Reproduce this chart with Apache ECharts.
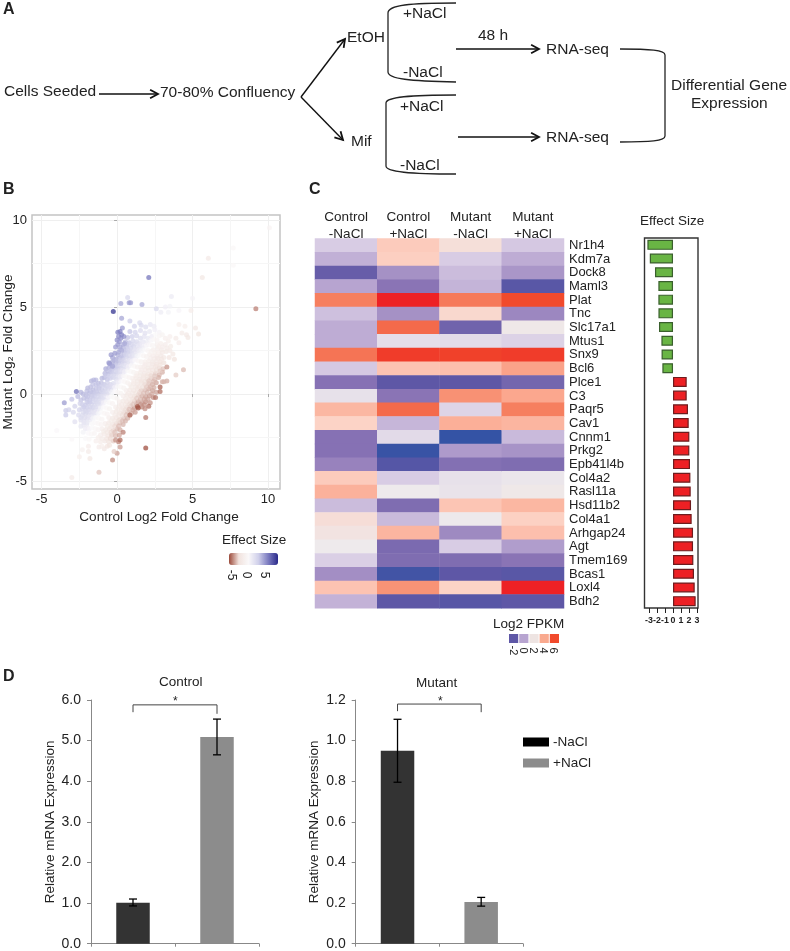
<!DOCTYPE html>
<html><head><meta charset="utf-8">
<style>html,body{margin:0;padding:0;background:#fff}#c{width:790px;height:951px}</style>
<script src="https://cdn.jsdelivr.net/npm/echarts@6/dist/echarts.min.js"></script>
</head><body><div id="c"></div>
<script>
// ---------- panel B: [control LFC, mutant LFC, effect size]
const scatterBlue = [
[1.15,3.9,3.5],[1.6,3.95,3],[1.9,3.85,2.6],[2.2,4,2],[2.45,3.9,1.6],
[.85,3.6,4],[1.2,3.55,3.4],[1.55,3.65,2.8],[1.85,3.5,2.4],[2.15,3.6,1.8],[2.5,3.7,1.2],[2.8,3.55,.9],
[.7,3.25,4.2],[1,3.3,3.6],[1.3,3.35,3.2],[1.55,3.2,2.7],[1.8,3.3,2.2],[2.05,3.2,1.8],[2.3,3.3,1.4],
[.55,3,4.4],[.8,2.95,4],[1.05,3.05,3.3],[1.3,3,2.9],[1.5,2.9,2.5],[1.75,3,2],[2,2.95,1.5],
[.4,2.7,4.5],[.65,2.7,4],[.9,2.65,3.4],[1.1,2.75,3],[1.3,2.6,2.5],[1.5,2.7,2],[1.7,2.65,1.5],
[.45,2.3,4.2],[.7,2.4,3.6],[.85,2.45,3.2],[1,2.3,2.7],[1.2,2.4,2.2],[1.4,2.35,1.6],[.55,2.5,4],
[-.3,2.1,5.2],[-.05,2,5],[.2,2.1,4.6],[.4,2.05,4],[.6,2.15,3.4],[.8,2.05,2.8],[1,2.1,2.2],[1.2,2,1.5],
[-.55,1.8,5.2],[-.3,1.85,5],[-.1,1.75,4.6],[.1,1.8,4.2],[.3,1.85,3.6],[.5,1.75,3.1],[.7,1.8,2.5],[.9,1.75,1.8],
[-.75,1.45,5],[-.55,1.5,4.8],[-.35,1.4,4.4],[-.15,1.5,4],[.05,1.45,3.6],[.25,1.5,3.1],[.45,1.4,2.6],[.65,1.5,2],
[-.8,1.2,4.6],[-.6,1.15,4.3],[-.4,1.25,4],[-.2,1.15,3.6],[0,1.2,3.2],[.2,1.15,2.6],[.4,1.25,2],
[-1,.9,4.5],[-.85,.95,4.3],[-.65,.85,4],[-.45,.9,3.6],[-.25,.95,3.2],[-.05,.85,2.7],[.15,.9,2.1],
[-1.7,.75,4.6],[-1.55,.8,4.4],[-1.4,.8,4.4],[-1.25,.6,4.3],[-1.05,.65,4.2],[-.85,.55,3.9],[-.65,.65,3.5],[-.45,.55,3.1],[-.25,.6,2.6],[-.05,.6,2],
[-1.95,.35,4.5],[-1.75,.4,4.3],[-1.6,.25,4.2],[-1.4,.3,4.1],[-1.2,.35,3.9],[-1,.25,3.7],[-.8,.3,3.3],[-.6,.35,2.9],[-.4,.25,2.4],
[-2.4,.1,4.6],[-2.25,0,4.4],[-2.05,-.05,4.2],[-1.85,.05,4.1],[-1.65,-.05,3.9],[-1.45,.05,3.7],[-1.25,0,3.5],[-1.05,-.05,3.1],[-.85,.05,2.8],[-.65,0,2.3],
[-2.6,-.15,4.4],[-2.2,-.25,4.2],[-2,-.3,4],[-1.8,-.35,3.8],[-1.6,-.25,3.6],[-1.4,-.35,3.3],[-1.2,-.3,3],[-1,-.25,2.6],[-.8,-.35,2],
[-2.3,-.6,3.8],[-2.1,-.65,3.6],[-1.9,-.55,3.5],[-1.7,-.6,3.2],[-1.5,-.65,3],[-1.3,-.55,2.7],[-1.1,-.6,2.2],
[-2.5,-.9,3.4],[-2.3,-.85,3.3],[-2.1,-.95,3.1],[-1.9,-.9,3],[-1.7,-.85,2.7],[-1.5,-.95,2.3],[-1.3,-.9,2],
[-2.55,-1.2,2.8],[-2.3,-1.25,2.7],[-2.1,-1.15,2.6],[-1.9,-1.25,2.3],[-1.7,-1.2,2],[-1.5,-1.15,1.6],
[-2.8,-1.6,2.4],[-2.4,-1.5,2.4],[-2.2,-1.55,2.2],[-2,-1.45,2],[-1.8,-1.5,1.6],
[-2.4,-1.85,1.8],[-2.2,-1.8,1.7],[-2,-1.75,1.5]
];
const scatterBrown = [
[3.2,3.2,-.8],[3.4,3.05,-1],[3.5,3.3,-.8],
[2.65,2.85,-.6],[2.9,2.9,-.9],[3.2,2.85,-1.2],[3.55,2.75,-1.4],
[2.4,2.55,-.8],[2.7,2.6,-1.1],[2.95,2.55,-1.3],[3.25,2.45,-1.7],[3.5,2.5,-1.6],
[2.15,2.25,-.9],[2.4,2.2,-1.2],[2.65,2.15,-1.5],[2.9,2.2,-1.8],[3.1,2.1,-2],[3.45,2.1,-2.2],[3.7,2.3,-2],
[1.85,1.85,-1],[2.1,1.9,-1.3],[2.35,1.85,-1.6],[2.6,1.9,-1.9],[2.85,1.85,-2.2],[3.1,1.8,-2.6],[3.8,2,-2.5],
[1.55,1.55,-.9],[1.8,1.6,-1.3],[2.05,1.5,-1.7],[2.3,1.55,-2],[2.55,1.6,-2.3],[2.8,1.5,-2.7],[3.05,1.45,-3.2],
[1.3,1.2,-1],[1.55,1.25,-1.4],[1.8,1.2,-1.8],[2.05,1.15,-2.1],[2.3,1.2,-2.5],[2.55,1.2,-2.9],[2.8,1.1,-3.4],[3,1.25,-3.6],
[1,.9,-1],[1.25,.9,-1.5],[1.5,.85,-1.9],[1.75,.95,-2.2],[2,.85,-2.6],[2.25,.9,-3],[2.5,.85,-3.3],[2.75,.95,-3.6],
[.85,.55,-1.1],[1.1,.6,-1.6],[1.35,.55,-2],[1.6,.65,-2.4],[1.85,.55,-2.8],[2.1,.6,-3.2],[2.35,.55,-3.6],[2.6,.65,-3.8],[3,.7,-3.6],
[.6,.2,-1.1],[.85,.25,-1.6],[1.1,.2,-2.1],[1.35,.3,-2.5],[1.6,.2,-3],[1.85,.25,-3.3],[2.1,.3,-3.7],[2.35,.2,-3.9],[2.6,.1,-3.9],
[.4,-.1,-1.1],[.65,-.05,-1.7],[.9,-.1,-2.2],[1.15,-.15,-2.6],[1.4,-.05,-3.1],[1.65,-.1,-3.6],[1.9,-.15,-3.9],[2.15,-.1,-4],[2.4,-.2,-4.3],
[.15,-.45,-1.2],[.4,-.4,-1.7],[.65,-.45,-2.2],[.9,-.5,-2.7],[1.15,-.4,-3.2],[1.4,-.45,-3.9],[1.65,-.5,-4],[1.9,-.45,-4.3],[2.2,-.5,-4.2],
[-.1,-.75,-1.1],[.15,-.7,-1.7],[.4,-.8,-2.2],[.65,-.75,-2.7],[.9,-.7,-3.3],[1.15,-.8,-3.9],[1.65,-.75,-4.4],[1.85,-.85,-4.3],
[-.3,-1.05,-1.1],[-.05,-1,-1.7],[.2,-1.1,-2.2],[.45,-1.05,-2.8],[.7,-1,-3.4],[.95,-1.1,-3.6],[1.2,-1.05,-4],
[-.55,-1.35,-1.1],[-.3,-1.4,-1.7],[-.05,-1.35,-2.2],[.2,-1.45,-2.8],[.45,-1.4,-3.2],[.7,-1.4,-3.6],
[-.8,-1.7,-1.1],[-.55,-1.65,-1.6],[-.3,-1.75,-2.1],[-.05,-1.7,-2.8],[.2,-1.65,-3.4],[.4,-1.75,-3.5],
[-1,-2,-1.1],[-.75,-2.05,-1.7],[-.5,-2,-2.2],[-.25,-2.1,-2.9],[0,-2,-3.4],[.2,-2.05,-3.6],
[-1.1,-2.35,-1.1],[-.85,-2.3,-1.6],[-.6,-2.4,-2.2],[-.35,-2.35,-3],[-.1,-2.4,-3.4],[.15,-2.35,-3.8],
[-1.4,-2.7,-.8],[-1.1,-2.75,-1.3],[-.8,-2.7,-1.9],[-.55,-2.75,-2.4],[-.25,-2.7,-3],
[-1.2,-3.05,-1.2],[-.65,-3,-2.2],[-.5,-2.95,-2.4],[-.85,-3.15,-1.8]
];
const scatterFillBlue = [
[-1.15,.45,3.8],[-.95,.5,3.5],[-.7,.45,3.2],[-.5,.42,2.8],[-.3,.45,2.4],[-1.6,.55,4],[-1.4,.55,4],
[-.7,1.05,3.8],[-.5,1.03,3.4],[-.3,1.05,3],[-.1,1.02,2.6],[.1,1.05,2.2],
[-.6,1.32,4.2],[-.4,1.33,3.8],[-.2,1.3,3.4],[0,1.32,3],[.2,1.33,2.4],[.35,1.35,2],
[-.45,1.65,4.4],[-.2,1.63,4],[0,1.62,3.6],[.2,1.65,3.1],[.4,1.63,2.6],[.6,1.65,2],
[-.2,1.95,4.6],[0,1.92,4.2],[.22,1.95,3.7],[.45,1.92,3.1],[.65,1.97,2.5],[.85,1.92,1.9],
[.05,2.25,4.6],[.3,2.22,4.1],[.55,2.27,3.5],[.75,2.22,3],[.95,2.2,2.4],[1.15,2.22,1.8],
[.2,2.55,4.5],[.45,2.55,3.9],[.75,2.55,3.3],[1,2.53,2.7],[1.2,2.55,2.1],[1.45,2.52,1.5],
[.4,2.85,4.4],[.65,2.85,3.8],[.95,2.85,3.2],[1.2,2.87,2.6],[1.45,2.82,2],[1.65,2.85,1.4],
[-1.15,.15,3.7],[-.95,.15,3.3],[-.75,.15,2.9],[-.55,.12,2.4],[-1.55,.1,3.9],[-1.35,.15,3.8],[-1.75,.15,4.1],[-2,.18,4.3],
[-1.5,-.12,3.6],[-1.3,-.15,3.3],[-1.1,-.15,2.9],[-.9,-.17,2.4],[-1.7,-.15,3.7],[-1.95,-.15,4],[-2.4,-.35,4.1],
[-1.6,-.45,3.3],[-1.4,-.45,3],[-1.2,-.47,2.7],[-1,-.43,2.2],[-1.8,-.45,3.6],[-2,-.47,3.8],
[-1.6,-.78,3],[-1.4,-.75,2.7],[-1.2,-.75,2.2],[-1.8,-.75,3.2],[-2,-.78,3.4],[-2.2,-.75,3.6],
[-1.85,-1.05,2.8],[-1.65,-1.05,2.4],[-1.45,-1.07,2],[-2.05,-1.05,3],[-2.25,-1.05,3],
[-1.95,-1.35,2.2],[-1.75,-1.35,1.9],[-2.15,-1.35,2.5],[-2.4,-1.35,2.6],
[-2,-1.65,1.8],[-2.2,-1.65,2],[-2.1,-2,1.4],[-1.95,-1.95,1.2],[-2.25,-2.2,1]
];
const scatterFillBrown = [
[1.2,.4,-1.8],[1.45,.42,-2.2],[1.7,.4,-2.6],[1.95,.4,-3],[2.2,.42,-3.4],[2.45,.38,-3.6],[.95,.4,-1.4],
[.75,.05,-1.5],[1,.05,-1.9],[1.25,.05,-2.4],[1.5,.08,-2.8],[1.75,.05,-3.2],[2,.08,-3.5],[2.3,0,-3.8],
[.55,-.28,-1.5],[.8,-.3,-2],[1.05,-.28,-2.5],[1.3,-.25,-3],[1.55,-.3,-3.4],[1.8,-.3,-3.8],[2.05,-.3,-3.9],
[.3,-.6,-1.6],[.55,-.6,-2],[.8,-.62,-2.6],[1.05,-.6,-3.1],[1.3,-.62,-3.6],[1.55,-.6,-4],[1.8,-.62,-4.2],
[.05,-.88,-1.5],[.3,-.92,-2],[.55,-.9,-2.6],[.8,-.88,-3.2],[1.05,-.92,-3.8],
[-.15,-1.2,-1.5],[.1,-1.22,-2],[.35,-1.2,-2.6],[.6,-1.22,-3.2],[.85,-1.22,-3.6],
[-.4,-1.55,-1.4],[-.15,-1.55,-2],[.1,-1.55,-2.6],[.35,-1.55,-3.2],[.55,-1.55,-3.5],
[-.65,-1.85,-1.4],[-.4,-1.88,-2],[-.15,-1.85,-2.7],[.1,-1.85,-3.3],
[-.9,-2.15,-1.4],[-.65,-2.2,-2],[-.4,-2.2,-2.7],[-.15,-2.2,-3.2],
[-1.25,-2.5,-1],[-1,-2.55,-1.5],[-.7,-2.55,-2.1],[-.45,-2.55,-2.7],
[1.5,1.05,-1.7],[1.75,1.05,-2],[2,1.03,-2.4],[2.25,1.05,-2.7],[2.5,1.03,-3.1],[1.25,1.05,-1.3],
[1.1,.72,-1.3],[1.35,.75,-1.7],[1.6,.75,-2.2],[1.85,.72,-2.6],[2.1,.75,-3],[2.4,.72,-3.4],
[1.6,1.38,-1.2],[1.85,1.4,-1.6],[2.1,1.35,-2],[2.35,1.38,-2.3],[2.6,1.4,-2.6],[2.85,1.33,-3],
[1.85,1.7,-1.2],[2.1,1.7,-1.5],[2.35,1.72,-1.9],[2.6,1.7,-2.2],[2.85,1.68,-2.5],
[2.2,2.05,-1.1],[2.45,2.03,-1.5],[2.7,2.05,-1.8],[2.95,2,-2.1],
[2.5,2.37,-1],[2.75,2.37,-1.3],[3,2.38,-1.6],[2.75,2.72,-.9],[3,2.7,-1.2],[3.3,2.65,-1.5]
];
const scatterCore = [
[-2.1,-2.55,.5],[-1.85,-2.6,.2],[-1.9,-2.25,.6],[-1.7,-2.3,.2],[-1.5,-2.25,0],
[-1.85,-2,.8],[-1.65,-1.95,.5],[-1.45,-2,.2],[-1.25,-2.05,-.2],
[-1.65,-1.7,.7],[-1.45,-1.65,.4],[-1.25,-1.7,.1],[-1.05,-1.75,-.3],
[-1.6,-1.4,1],[-1.4,-1.35,.7],[-1.2,-1.4,.3],[-1,-1.45,0],
[-1.25,-1.1,1],[-1.05,-1.05,.5],[-.85,-1.1,.1],[-.65,-1.15,-.3],
[-1.1,-.8,1],[-.9,-.75,.6],[-.7,-.8,.2],[-.5,-.85,-.4],
[-.9,-.5,1.2],[-.7,-.45,.7],[-.5,-.5,.3],[-.3,-.55,-.3],
[-.6,-.2,1.2],[-.4,-.15,.7],[-.2,-.2,.2],[0,-.25,-.4],
[-.35,.1,1],[-.15,.15,.6],[.05,.1,.1],[.25,.05,-.4],
[-.15,.4,1.2],[.05,.45,.7],[.25,.4,.2],[.45,.35,-.4],
[.1,.7,1.2],[.3,.75,.6],[.5,.7,.1],[.7,.65,-.5],
[.2,1,1.5],[.4,1.05,.9],[.6,1,.3],[.8,.95,-.3],
[.5,1.3,1.2],[.7,1.35,.7],[.9,1.3,.2],[1.1,1.25,-.4],
[.75,1.6,1.2],[.95,1.65,.7],[1.15,1.6,.1],[1.35,1.55,-.5],
[1,1.9,1.2],[1.2,1.95,.6],[1.4,1.9,.1],[1.6,1.85,-.5],
[1.35,2.2,1],[1.55,2.25,.5],[1.75,2.2,0],[1.95,2.15,-.5],
[1.65,2.5,1],[1.85,2.55,.5],[2.05,2.5,0],[2.25,2.45,-.5],
[1.95,2.8,.9],[2.15,2.85,.4],[2.35,2.8,-.1],
[2.25,3.1,.8],[2.45,3.15,.3],[2.65,3.1,-.2],
[2.55,3.4,.5],[2.8,3.35,0],[3,3.4,-.4]
];
const scatterOutliers = [
[10.1,9.55,-.3],[7.7,8.4,.2],[7.7,7.4,.2],[6.05,7.8,-1.6],[5.65,6.7,-2],[2.1,6.7,7],[.7,5.55,3],[3.6,5.6,1.6],[5,5.5,.9],
[-.25,4.75,9.6],[.25,5.2,5.2],[.8,5.25,5.6],[.9,5.25,5.6],[1.65,5.15,5.2],[2.6,4.9,3],[3.2,5,1.2],[3.5,5.05,1],[2.9,4.7,1.5],[3.4,4.7,1],[4.1,4.8,.8],[4.9,4.8,-1.3],[9.2,4.9,-4.6],
[.3,4.35,5.2],[.85,4.2,3.8],[1.5,4.1,3],[.35,3.8,5.6],
[4.1,4,-1],[4.5,3.9,-1],[5.2,3.8,-1.8],[5.4,3.45,-2.4],[4.6,3.4,-1.8],[4.3,3.5,-1.5],[4.7,3.25,-2],[3.9,3.2,-1.5],[4.1,2.95,-1.2],[3.9,1.1,-3],[4.4,1.4,-3.4],[3.3,1.55,-4.2],[3.3,.75,-3.7],[3.1,.7,-3.5],
[-4,-2.1,.6],[-3.5,-.5,5.6],[-2.7,.15,7.2],[-3.4,-1.2,3.8],[-3.4,-.95,3.8],[-3.2,-.9,3.5],[-3,-.3,4],[-2.8,-.7,3.5],[-2.9,-1.05,3],[-2.45,-.55,3.5],[-3,-2.6,.4],
[-2.3,-3.2,-.5],[-2.5,-3.6,-1],[-3,-4.8,-1.5],[-1.2,-4.5,-3.2],[-.3,-3.8,-4.4],[0,-3.4,-4],[.2,-3.05,-4],[1.9,-3.1,-5.6],[-.2,-3.3,-3],[-1,-3,-1],[-1.9,-3,-1.2],[-1.9,-3.3,-1.5],[-1.8,-3.7,-2],
[.1,-2.75,-4.5],[-.1,-2.65,-4.2],[.4,-2.2,-4.6],[.2,-2.65,-5],[1.9,-1.35,-4.8],[.85,-1.2,-5],[1.4,-.8,-5.6],[1.35,-.72,-5.4],[2.1,-.7,-5],[2.55,-.2,-4.8],[2.85,.4,-5.2],[2.85,.15,-5],
[.05,3.55,6.6],[.2,3.6,6.6],[.1,3.3,6],[.3,3.4,6.6],[0,3.1,6],[.15,3,5.6],[.45,3.3,6],[.25,3.2,6],[.05,2.85,5.6],[-.1,2.7,5.6],[.2,2.7,5],[.5,2.9,5],[-.15,2.35,5.6],[-.4,2.25,5.6],[.1,2.4,5],[.3,2.5,4.8],[-.5,1.75,5.6],[-.3,1.6,5.2]
];
const scatterXTicks = [-5,0,5,10];
const scatterYTicks = [-5,0,5,10];
const scatterMinorGrid = [-2.5,2.5,7.5];
const effectLegendTicks = [-5,0,5];

// ---------- panel C
const conditions = ['Control\n-NaCl','Control\n+NaCl','Mutant\n-NaCl','Mutant\n+NaCl'];
const genes = ['Nr1h4','Kdm7a','Dock8','Maml3','Plat','Tnc','Slc17a1','Mtus1','Snx9','Bcl6','Plce1','C3','Paqr5','Cav1','Cnnm1','Prkg2','Epb41l4b','Col4a2','Rasl11a','Hsd11b2','Col4a1','Arhgap24','Agt','Tmem169','Bcas1','Loxl4','Bdh2'];
const fpkmControlMinus = [1,.3,-1.8,0,5,.7,.2,.2,5.2,.9,-1.1,1.7,3.7,3,-1.1,-1.1,-.7,3.2,3.85,.6,2.55,2.3,2,1.1,-.45,3.4,.35];
const fpkmControlPlus = [3.2,3.1,-.4,-1,6.9,-.4,5.4,1.6,6.3,3.4,-2,-1,5.4,.45,1.45,-2.8,-2.2,1,2,-1.25,.55,3.75,-1.35,-1.25,-2.6,4.55,-2];
const fpkmMutantMinus = [2.5,1,.6,.4,5.1,2.8,-1.6,1.5,6.2,3.5,-2,4.6,1.25,3.9,-2.9,-.2,-1.15,1.7,1.75,3.35,1.95,-.55,1,-1.25,-2,3,-2.15];
const fpkmMutantPlus = [.9,.2,-.3,-2.1,6,-.6,2.1,1.2,6.3,4.2,-1.5,4.1,5,3.75,.55,-.35,-1.25,1.85,2.1,3.7,3.05,3.5,-.15,-1,-2.1,6.9,-2];
const fpkmTicks = ['-2','0','2','4','6'];
const fpkmLegendColors = ['#5e57a6','#b7a4d0','#eee4e2','#f9a98e','#f14a2c'];
const fpkmScale = ['#2f52a5','#5e57a6','#8a74b5','#b7a4d0','#d8cce4','#eeeaec','#fcd3c6','#fbab93','#f67f5f','#f14a2c','#ed1c24'];
const effectByGene = [-3.2,-2.9,-2.25,-1.83,-1.83,-1.82,-1.75,-1.45,-1.43,-1.33,1.71,1.71,1.87,1.96,2.04,2.04,2.12,2.17,2.21,2.25,2.33,2.5,2.5,2.54,2.62,2.71,2.83];
const effectTicks = [-3,-2,-1,0,1,2,3];

// ---------- panel D
const groups = ['-NaCl','+NaCl'];
const controlMeans = [1.01,5.09];
const controlErrLow = [.93,4.65];
const controlErrHigh = [1.1,5.53];
const controlBracket = [[0,5.7],[0,5.88],[1,5.88],[1,5.66]];
const mutantMeans = [.95,.205];
const mutantErrLow = [.795,.185];
const mutantErrHigh = [1.105,.228];
const mutantBracket = [[0,1.145],[0,1.18],[1,1.18],[1,1.14]];

// ---------- panel A diagram
const flowTexts = [
 ['Cells Seeded',4,92],['70-80% Confluency',160,93],['EtOH',347,38],['Mif',351,142],
 ['+NaCl',403,14],['-NaCl',403,73],['+NaCl',400,107],['-NaCl',400,166],['48 h',478,36],
 ['RNA-seq',546,50],['RNA-seq',546,138],['Differential Gene',671,86],['Expression',691,104]
];
const flowArrows = [[99,94,158,94],[301,97,345,39],[301,97,343,140],[456,49,539,49],[458,137,539,137]];
const flowLines = [[388,13,388,72],[386,103,386,166],[665,55,665,136]];
const flowCurves = [
 [456,3,410,3,388,5,388,13],[388,72,388,79,410,81,456,82],
 [456,95,410,95,386,97,386,103],[386,166,386,172,410,174,456,174],
 [620,49,650,49,665,50,665,55],[665,136,665,141,650,142,620,142]
];

const FONT = '"Liberation Sans",Arial,sans-serif';
const INK = '#222';

function txt(s,x,y,size,o){
  return Object.assign({type:'text',silent:true,x:x,y:y,style:{text:s,font:(o&&o.bold?'bold ':'')+size+'px '+FONT,fill:INK,textVerticalAlign:'middle',textAlign:(o&&o.align)||'left'}},o&&o.rot?{rotation:o.rot}:{});
}
const graphics = [];
flowTexts.forEach(t=>graphics.push(txt(t[0],t[1],t[2],15.5)));
flowLines.forEach(a=>graphics.push({type:'line',silent:true,shape:{x1:a[0],y1:a[1],x2:a[2],y2:a[3]},style:{stroke:'#222',lineWidth:1.3}}));
flowCurves.forEach(a=>graphics.push({type:'bezierCurve',silent:true,shape:{x1:a[0],y1:a[1],cpx1:a[2],cpy1:a[3],cpx2:a[4],cpy2:a[5],x2:a[6],y2:a[7]},style:{fill:null,stroke:'#222',lineWidth:1.3}}));
flowArrows.forEach(a=>{
  const ang=Math.atan2(a[3]-a[1],a[2]-a[0]),L=9,W=.5;
  graphics.push({type:'line',silent:true,shape:{x1:a[0],y1:a[1],x2:a[2],y2:a[3]},style:{stroke:'#111',lineWidth:1.4}});
  graphics.push({type:'polyline',silent:true,shape:{points:[[a[2]-L*Math.cos(ang-W),a[3]-L*Math.sin(ang-W)],[a[2],a[3]],[a[2]-L*Math.cos(ang+W),a[3]-L*Math.sin(ang+W)]]},style:{fill:null,stroke:'#111',lineWidth:1.8}});
});
[['A',3,10],['B',3,190],['C',309,190],['D',3,677]].forEach(l=>graphics.push(txt(l[0],l[1],l[2],16,{bold:true})));
graphics.push(txt('Effect Size',222,540,13.5));
effectLegendTicks.forEach((v,i)=>graphics.push(txt(String(v),[231,246,264][i],575,12,{rot:-Math.PI/2,align:'center'})));
graphics.push(txt('Effect Size',640,221,13.5));
graphics.push(txt('Log2 FPKM',493,624,13.5));
fpkmLegendColors.forEach((c,i)=>{
  graphics.push({type:'rect',silent:true,shape:{x:509+i*10.2,y:634,width:9.2,height:9},style:{fill:c}});
  graphics.push(txt(fpkmTicks[i],513+i*10.1,650.5,11,{rot:-Math.PI/2,align:'center'}));
});
graphics.push(txt('Control',159,682,13.5));
graphics.push(txt('Mutant',416,683,13.5));
graphics.push(txt('*',173,702,12));
graphics.push(txt('*',438,702,12));

const heatData = [];
[fpkmControlMinus,fpkmControlPlus,fpkmMutantMinus,fpkmMutantPlus].forEach((col,c)=>col.forEach((v,r)=>heatData.push([c,r,v])));

const scatterAll = scatterBlue.concat(scatterBrown,scatterFillBlue,scatterFillBrown,scatterCore,scatterOutliers);

function errorSeries(grid,low,high){
  return {type:'custom',xAxisIndex:grid,yAxisIndex:grid,silent:true,z:5,
    data:low.map((v,i)=>[i,v,high[i]]),encode:{x:0,y:[1,2]},
    renderItem:function(p,api){
      const a=api.coord([api.value(0),api.value(1)]),b=api.coord([api.value(0),api.value(2)]),h=4;
      const st={stroke:'#000',lineWidth:1.3,fill:null};
      return {type:'group',children:[
        {type:'line',shape:{x1:a[0],y1:a[1],x2:b[0],y2:b[1]},style:st},
        {type:'line',shape:{x1:a[0]-h,y1:a[1],x2:a[0]+h,y2:a[1]},style:st},
        {type:'line',shape:{x1:b[0]-h,y1:b[1],x2:b[0]+h,y2:b[1]},style:st}]};
    }};
}
function barSeries(grid,name,vals,color){
  return {type:'bar',name:name,xAxisIndex:grid,yAxisIndex:grid,stack:'g'+grid,barWidth:33.5,silent:true,data:vals,itemStyle:{color:color}};
}
function bracketSeries(grid,pts){
  return {type:'line',xAxisIndex:grid,yAxisIndex:grid,silent:true,symbol:'none',data:pts,lineStyle:{color:'#444',width:1},z:4};
}
function dXAxis(grid){
  return {type:'category',gridIndex:grid,data:groups,axisLine:{lineStyle:{color:'#888'}},axisTick:{show:true,length:3,lineStyle:{color:'#888'},alignWithLabel:false},axisLabel:{show:false},splitLine:{show:false}};
}
function dYAxis(grid,max,step,dp){
  return {type:'value',gridIndex:grid,min:0,max:max,interval:step,name:'Relative mRNA Expression',nameLocation:'middle',nameGap:dp,nameMoveOverlap:false,
    nameTextStyle:{fontFamily:FONT,fontSize:13.5,color:INK},
    axisLine:{show:true,lineStyle:{color:'#888'}},axisTick:{show:true,length:4,lineStyle:{color:'#888'}},splitLine:{show:false},
    axisLabel:{fontFamily:FONT,fontSize:14,color:INK,margin:10,formatter:v=>v.toFixed(1)}};
}

const option = {
  animation:false,
  backgroundColor:'#fff',
  graphic:graphics,
  legend:{orient:'vertical',left:523,top:735,itemWidth:26,itemHeight:9,itemGap:7,selectedMode:false,padding:0,
    textStyle:{fontFamily:FONT,fontSize:13.5,color:INK,padding:[0,0,0,-1]},
    data:[{name:groups[0],icon:'rect',itemStyle:{color:'#000'}},{name:groups[1],icon:'rect',itemStyle:{color:'#8c8c8c'}}]},
  visualMap:[
    {type:'continuous',seriesIndex:1,dimension:2,min:-5.6,max:9.7,orient:'horizontal',left:229,top:553,itemWidth:12,itemHeight:49,padding:0,calculable:false,hoverLink:false,
      inRange:{color:['#9c4a3a','#f1e3de','#faf8f9','#d0d0ea','#7c7cc0','#2a2a8a']},text:null},
    {type:'continuous',seriesIndex:2,dimension:2,min:-3,max:7,show:false,hoverLink:false,inRange:{color:fpkmScale}}
  ],
  grid:[
    {left:32,top:215,width:248,height:274,show:true,borderColor:'#c4c4c4',borderWidth:1.5,backgroundColor:'#fff',outerBoundsMode:'none'},
    {left:315,top:238.5,width:249,height:369.8,outerBoundsMode:'none'},
    {left:644.5,top:238,width:53.5,height:370,show:true,borderColor:'#333',borderWidth:1.4,backgroundColor:'#fff',outerBoundsMode:'none'},
    {left:91,top:700,width:168,height:243.7,outerBoundsMode:'none'},
    {left:355.7,top:700,width:167.3,height:243.7,outerBoundsMode:'none'}
  ],
  xAxis:[
    {type:'value',gridIndex:0,min:-5.64,max:10.8,name:'Control Log2 Fold Change',nameLocation:'middle',nameGap:21,nameMoveOverlap:false,
      nameTextStyle:{fontFamily:FONT,fontSize:13.6,color:INK,padding:[0,0,0,6]},
      axisLine:{show:false},axisTick:{show:true,length:3,lineStyle:{color:'#aaa'},customValues:scatterXTicks},
      axisLabel:{fontFamily:FONT,fontSize:13,color:INK,margin:4,customValues:scatterXTicks},
      splitLine:{show:true,lineStyle:{color:'#efefef',width:1}}},
    {type:'category',gridIndex:1,position:'top',data:conditions,axisLine:{show:false},axisTick:{show:false},splitLine:{show:false},
      axisLabel:{interval:0,fontFamily:FONT,fontSize:13.5,lineHeight:17,color:INK,margin:-4}},
    {type:'value',gridIndex:2,min:-3.56,max:3.12,axisLine:{show:false},splitLine:{show:false},
      axisTick:{show:true,length:5,lineStyle:{color:'#222'},customValues:effectTicks},
      axisLabel:{fontFamily:FONT,fontSize:8.8,fontWeight:'bold',color:INK,margin:8,showMinLabel:true,showMaxLabel:true,customValues:effectTicks}},
    dXAxis(3),dXAxis(4)
  ],
  yAxis:[
    {type:'value',gridIndex:0,min:-5.46,max:10.29,name:'Mutant Log\u2082 Fold Change',nameLocation:'middle',nameGap:17,nameMoveOverlap:false,
      nameTextStyle:{fontFamily:FONT,fontSize:13.6,color:INK},
      axisLine:{show:false},axisTick:{show:true,length:3,lineStyle:{color:'#aaa'},customValues:scatterYTicks},
      axisLabel:{fontFamily:FONT,fontSize:13,color:INK,margin:5,customValues:scatterYTicks},
      splitLine:{show:true,lineStyle:{color:'#efefef',width:1}}},
    {type:'category',gridIndex:1,position:'right',inverse:true,data:genes,axisLine:{show:false},axisTick:{show:false},splitLine:{show:false},
      axisLabel:{interval:0,fontFamily:FONT,fontSize:13,color:INK,margin:5}},
    {type:'category',gridIndex:2,inverse:true,data:genes,axisLine:{show:false},axisTick:{show:false},axisLabel:{show:false},splitLine:{show:false}},
    dYAxis(3,6,1,34),dYAxis(4,1.2,.2,34)
  ],
  series:[
    {type:'scatter',xAxisIndex:0,yAxisIndex:0,data:[],silent:true,z:1,
      markLine:{z:1,silent:true,symbol:'none',animation:false,label:{show:false},lineStyle:{color:'#f6f6f6',width:1,type:'solid'},
        data:scatterMinorGrid.map(v=>({xAxis:v})).concat(scatterMinorGrid.map(v=>({yAxis:v})))}},
    {type:'scatter',xAxisIndex:0,yAxisIndex:0,symbolSize:5,silent:true,z:3,large:false,data:scatterAll,itemStyle:{opacity:.72}},
    {type:'heatmap',xAxisIndex:1,yAxisIndex:1,silent:true,data:heatData,progressive:0},
    {type:'bar',xAxisIndex:2,yAxisIndex:2,barWidth:10,silent:true,
      data:effectByGene.map(v=>({value:v,itemStyle:v<0?{color:'#69b544',borderColor:'#3a5f2d',borderWidth:1.2}:{color:'#ed2024',borderColor:'#6d1c1e',borderWidth:1.2}}))},
    barSeries(3,groups[0],[controlMeans[0],null],'#333333'),
    barSeries(3,groups[1],[null,controlMeans[1]],'#8c8c8c'),
    errorSeries(3,controlErrLow,controlErrHigh),
    bracketSeries(3,controlBracket),
    barSeries(4,groups[0],[mutantMeans[0],null],'#333333'),
    barSeries(4,groups[1],[null,mutantMeans[1]],'#8c8c8c'),
    errorSeries(4,mutantErrLow,mutantErrHigh),
    bracketSeries(4,mutantBracket)
  ]
};
const chart = echarts.init(document.getElementById('c'),null,{renderer:'canvas'});
chart.setOption(option);
</script></body></html>
